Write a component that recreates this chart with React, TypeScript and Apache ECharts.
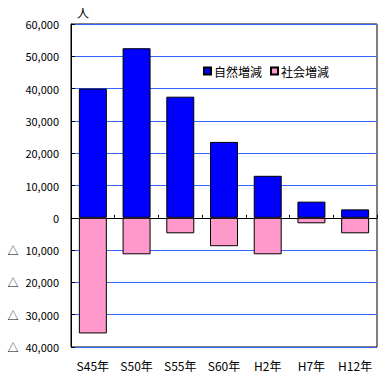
import React, { useEffect, useRef } from "react";
import * as echarts from "echarts";

const categories = ["S45年", "S50年", "S55年", "S60年", "H2年", "H7年", "H12年"];
const naturalIncrease = [40000, 52500, 37500, 23500, 13000, 5000, 2600];
const socialIncrease = [-35800, -11300, -4800, -8800, -11300, -1700, -4800];
const seriesNames = ["自然増減", "社会増減"];
const unitLabel = "人";

const FONT = "'Noto Sans CJK JP', 'Liberation Sans', sans-serif";

export default function App() {
  const ref = useRef<HTMLDivElement>(null);
  useEffect(() => {
    if (!ref.current) return;
    const chart = echarts.init(ref.current, undefined, { renderer: "svg" });
    const fmt = (v: number) => {
      if (v === 0) return "0";
      const s = Math.abs(v).toLocaleString("en-US");
      return v < 0 ? "{t|△}{n|" + s + "}" : s;
    };
    chart.setOption({
      animation: false,
      textStyle: { fontFamily: FONT },
      grid: {
        left: 71,
        right: 13,
        top: 24,
        bottom: 32,
        show: true,
        borderColor: "#000",
        borderWidth: 1,
        backgroundColor: "transparent",
      },
      legend: {
        left: 198,
        top: 60,
        itemWidth: 7,
        itemHeight: 7,
        itemGap: 8,
        textStyle: { fontSize: 12, color: "#000", fontFamily: FONT, padding: [0, 0, 0, -2] },
        data: seriesNames.map((n) => ({ name: n, icon: "rect" })),
      },
      graphic: [
        {
          type: "text",
          left: 77,
          top: 6,
          style: { text: unitLabel, fontSize: 12, fill: "#000", fontFamily: FONT },
        },
      ],
      xAxis: [
        {
          type: "category",
          data: categories,
          position: "bottom",
          axisLine: { show: false, onZero: false },
          axisTick: { show: false },
          axisLabel: { color: "#000", fontSize: 12, margin: 12, interval: 0, fontFamily: FONT },
        },
        {
          type: "category",
          data: categories,
          position: "bottom",
          axisLine: { show: true, onZero: true, lineStyle: { color: "#000", width: 1 } },
          axisTick: { show: true, inside: true, length: 3, interval: 0, lineStyle: { color: "#000" } },
          axisLabel: { show: false, interval: 0 },
        },
      ],
      yAxis: {
        type: "value",
        min: -40000,
        max: 60000,
        interval: 10000,
        axisLine: { show: true, lineStyle: { color: "#000" } },
        axisTick: { show: true, inside: true, length: 4, lineStyle: { color: "#000" } },
        splitLine: { show: true, lineStyle: { color: "#3366ff", width: 1 } },
        axisLabel: {
          color: "#000",
          fontSize: 11,
          margin: 12,
          fontFamily: FONT,
          formatter: fmt,
          rich: {
            t: { width: 18, align: "left", fontSize: 11, color: "#000", fontFamily: FONT },
            n: { fontSize: 11, color: "#000", fontFamily: FONT },
          },
        },
      },
      series: [
        {
          name: seriesNames[0],
          type: "bar",
          stack: "total",
          xAxisIndex: 0,
          data: naturalIncrease,
          barCategoryGap: "36%",
          itemStyle: { color: "#0000ff", borderColor: "#000", borderWidth: 1 },
        },
        {
          name: seriesNames[1],
          type: "bar",
          stack: "total",
          xAxisIndex: 0,
          data: socialIncrease,
          barCategoryGap: "36%",
          itemStyle: { color: "#ff99cc", borderColor: "#000", borderWidth: 1 },
        },
      ],
    });
    return () => chart.dispose();
  }, []);
  return (
    <div
      ref={ref}
      style={{ position: "fixed", left: 0, top: 0, width: 390, height: 379, background: "#fff" }}
    />
  );
}
